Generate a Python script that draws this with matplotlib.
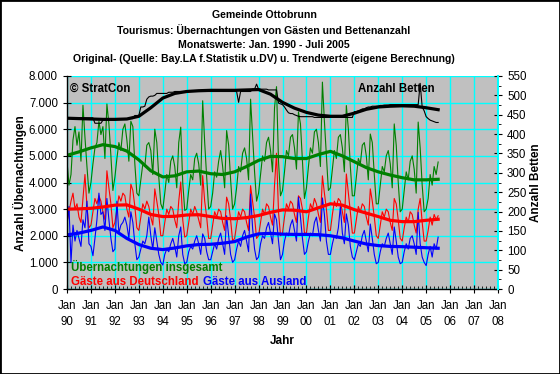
import matplotlib
matplotlib.use("Agg")
import matplotlib.pyplot as plt
from matplotlib.ticker import FuncFormatter, MultipleLocator
from matplotlib.patches import Rectangle
import numpy as np

plt.rcParams['font.family'] = ['Liberation Sans', 'DejaVu Sans']

# Monatswerte Jan 1990 - Jul 2005
ubern_gesamt = [
    4800, 3900, 4300, 5600, 6100, 5400, 5900, 4800, 6900, 5700, 4600, 3600,
    4000, 4700, 5300, 5500, 6300, 5800, 6100, 4900, 6950, 6200, 5000, 3700,
    4200, 4900, 5500, 5200, 6000, 6200, 5600, 4800, 6300, 6100, 4700, 3600,
    3500, 4100, 4700, 4600, 5400, 5500, 5200, 4300, 6000, 5500, 4200, 3200,
    3000, 3600, 4300, 4000, 4800, 5000, 4600, 3800, 5500, 6080, 4000, 2950,
    3000, 3700, 4300, 4100, 4900, 5100, 4700, 3900, 7070, 5500, 4200, 3000,
    3100, 3600, 4400, 4200, 4800, 5200, 4600, 3800, 5950, 5400, 4100, 3000,
    3200, 3800, 4600, 4400, 5100, 5300, 4900, 4100, 7130, 5800, 4400, 3300,
    3600, 4300, 5000, 4800, 5500, 5700, 5200, 4400, 6800, 7600, 4800, 3500,
    3700, 4400, 5200, 5000, 5700, 5800, 5300, 4500, 6650, 6200, 4800, 3400,
    3800, 4600, 5300, 5100, 5900, 6000, 5500, 4600, 7770, 6300, 5000, 3700,
    3800, 4500, 5200, 4900, 5700, 5800, 5300, 4400, 6890, 6000, 4600, 3500,
    3500, 4200, 4900, 4700, 5400, 5500, 5000, 4100, 5820, 5500, 4300, 3200,
    3200, 3900, 4600, 4400, 5000, 5200, 4700, 3800, 6200, 5400, 4000, 2900,
    3000, 3700, 4400, 4100, 4800, 5000, 4500, 3600, 6270, 5300, 3900, 2900,
    3000, 3400, 4300, 3900, 4600, 4300, 4770,
]

gaeste_de = [
    2500, 2900, 3300, 3600, 3000, 3200, 2700, 2500, 3400, 4300, 3100, 2300,
    2400, 2900, 3400, 3200, 3500, 3300, 2900, 2600, 4440, 3800, 3200, 2300,
    2500, 3000, 3500, 3300, 3600, 3500, 3000, 2700, 3940, 3700, 3100, 2300,
    2200, 2700, 3200, 3000, 3300, 3100, 2700, 2400, 3760, 3300, 2800, 2000,
    2000, 2500, 3000, 2800, 3100, 3000, 2600, 2300, 3300, 4020, 2600, 1950,
    2000, 2500, 3000, 2800, 3100, 2900, 2600, 2300, 4260, 3300, 2700, 1900,
    1900, 2400, 2900, 2700, 3000, 2900, 2500, 2200, 3450, 3200, 2600, 1800,
    1900, 2400, 2900, 2700, 3000, 2900, 2500, 2200, 3880, 3300, 2700, 1900,
    2000, 2500, 3000, 2800, 3200, 3100, 2700, 2400, 3900, 5100, 2900, 2000,
    2100, 2700, 3200, 3000, 3300, 3200, 2800, 2500, 3500, 3400, 3000, 2100,
    2100, 2700, 3200, 3000, 3400, 3200, 2800, 2500, 4250, 3600, 3000, 2200,
    2200, 2800, 3300, 3100, 3400, 3300, 2900, 2500, 4320, 3600, 2900, 2100,
    2100, 2600, 3100, 2900, 3200, 3100, 2700, 2400, 3760, 3300, 2700, 2000,
    1900, 2400, 2900, 2700, 3000, 2900, 2500, 2200, 3400, 3200, 2600, 1900,
    1800, 2300, 2700, 2500, 2900, 2800, 2400, 2100, 3000, 3400, 2500, 1800,
    1800, 2200, 2700, 2400, 2800, 2600, 2750,
]

gaeste_ausland = [
    2400, 3100, 1000, 2400, 1800, 2200, 1900, 1600, 2600, 2300, 3300, 1700,
    1600, 1250, 1900, 2600, 3600, 2800, 2900, 2200, 3400, 2600, 1900, 1400,
    1500, 3300, 2100, 2400, 2500, 2700, 2400, 1900, 2900, 2500, 1700, 1100,
    1200, 1500, 1800, 1700, 2000, 2700, 2000, 1500, 2300, 1800, 1300, 1000,
    900, 1300, 1500, 1400, 1700, 1900, 1600, 1200, 2000, 2330, 1300, 950,
    1000, 1400, 1600, 1500, 1800, 2000, 1700, 1300, 2070, 1900, 1400, 1100,
    1100, 1400, 1700, 1500, 1900, 2100, 1700, 1300, 2750, 2000, 1300, 1000,
    1100, 1500, 1800, 1600, 2000, 2200, 1800, 1400, 3570, 2300, 1500, 1100,
    1200, 1700, 2000, 1900, 2300, 2500, 2100, 1700, 2820, 2600, 1800, 1100,
    1300, 1800, 2100, 2000, 2400, 2600, 2200, 1800, 3450, 2700, 1900, 1300,
    1400, 1800, 2100, 2000, 2500, 2700, 2200, 1800, 3420, 2800, 1800, 1300,
    1300, 1700, 2000, 1900, 2300, 3100, 2100, 1700, 2820, 2400, 1600, 1200,
    1100, 1400, 1700, 1600, 2000, 2200, 1800, 1400, 2440, 1900, 1300, 950,
    1000, 1400, 1700, 1600, 1900, 2100, 1700, 1300, 2330, 1800, 1200, 950,
    1000, 1400, 1700, 1500, 1900, 2000, 1700, 1300, 2880, 1700, 1200, 1000,
    880, 1300, 1600, 1200, 1700, 1500, 1950,
]

betten = [
    442, 442, 442, 442, 442, 442, 442, 442, 442, 442, 442, 442,
    442, 442, 428, 428, 428, 428, 436, 436, 440, 440, 440, 440,
    438, 438, 438, 438, 438, 438, 438, 440, 440, 440, 448, 448,
    448, 470, 470, 472, 490, 496, 498, 498, 500, 505, 505, 505,
    505, 505, 505, 508, 508, 508, 510, 510, 510, 510, 510, 510,
    510, 510, 510, 510, 510, 510, 510, 510, 510, 510, 510, 510,
    510, 510, 510, 510, 510, 510, 510, 510, 510, 510, 510, 510,
    510, 510, 482, 510, 510, 510, 510, 510, 510, 516, 516, 529,
    516, 516, 516, 516, 516, 514, 514, 514, 514, 514, 480, 478,
    476, 470, 462, 455, 453, 453, 450, 448, 446, 445, 445, 445,
    445, 445, 445, 445, 443, 443, 443, 443, 443, 443, 443, 443,
    443, 443, 443, 443, 443, 443, 443, 443, 443, 443, 443, 443,
    458, 458, 460, 462, 465, 465, 468, 470, 470, 472, 472, 472,
    472, 474, 474, 475, 475, 475, 476, 476, 476, 476, 476, 476,
    476, 476, 476, 476, 476, 476, 476, 476, 476, 531, 470, 460,
    445, 440, 436, 434, 432, 430, 430,
]

# Trendwerte, halbjaehrlich Jan 1990 - Jul 2005
trend_gesamt = [5020, 5150, 5300, 5420, 5350, 5180, 4850, 4440, 4210, 4250,
                4400, 4430, 4330, 4300, 4400, 4600, 4830, 4980, 4970, 4900,
                4900, 5050, 5170, 5000, 4780, 4560, 4400, 4280, 4180, 4100,
                4100, 4120]
trend_de = [3000, 3010, 3030, 3080, 3150, 3160, 3000, 2800, 2720, 2730,
            2780, 2790, 2720, 2650, 2640, 2680, 2760, 2880, 2970, 2960,
            2900, 3050, 3200, 3150, 2980, 2850, 2720, 2580, 2530, 2530,
            2580, 2620]
trend_ausland = [2030, 2100, 2200, 2330, 2200, 1900, 1670, 1530, 1480, 1540,
                 1620, 1670, 1680, 1720, 1780, 1950, 2070, 2090, 2060, 2050,
                 2050, 2040, 2000, 1920, 1800, 1690, 1630, 1600, 1590, 1570,
                 1550, 1530]
trend_betten = [441, 440, 439, 438, 438, 439, 446, 468, 493, 505,
                510, 512, 513, 513, 513, 514, 515, 503, 482, 467,
                456, 449, 446, 446, 454, 464, 470, 472, 473, 472,
                468, 463]

jahre = list(range(1990, 2009))
x_monat = 1990 + np.arange(len(ubern_gesamt)) / 12
x_trend = 1990 + np.arange(len(trend_gesamt)) / 2

W, H = 560, 374
fig = plt.figure(figsize=(W / 100, H / 100), dpi=100)
ax = fig.add_axes([67 / W, 85 / H, 431 / W, 213 / H])
ax.set_facecolor('#C0C0C0')

thin = 0.8
thick = 2.3
ax.plot(x_monat, ubern_gesamt, color='#008000', lw=thin)
ax.plot(x_monat, gaeste_de, color='#FF0000', lw=thin)
ax.plot(x_monat, gaeste_ausland, color='#0000FF', lw=thin)
ax.plot(x_trend, trend_gesamt, color='#008000', lw=thick)
ax.plot(x_trend, trend_de, color='#FF0000', lw=thick)
ax.plot(x_trend, trend_ausland, color='#0000FF', lw=thick)

ax.set_xlim(1990, 2008)
ax.set_ylim(0, 8000)
ax.set_xticks(jahre)
ax.set_xticklabels([f"Jan\n{j % 100:02d}" for j in jahre], linespacing=1.4)
ax.xaxis.set_minor_locator(MultipleLocator(1 / 6))
ax.set_yticks(range(0, 8001, 1000))
ax.yaxis.set_major_formatter(FuncFormatter(lambda v, _: f"{int(v):,}".replace(',', '.')))
ax.set_axisbelow(True)
ax.grid(True, color='#00FFFF', lw=1.0)
ax.tick_params(axis='both', which='major', direction='inout', length=6, width=0.8,
               labelsize=8.3, colors='black')
ax.tick_params(axis='x', which='major', pad=5)
ax.tick_params(axis='x', which='minor', direction='in', length=2, width=0.6)
ax.spines['top'].set_visible(False)
ax.spines['right'].set_visible(False)
for s in ('left', 'bottom'):
    ax.spines[s].set_linewidth(1.0)

ax2 = ax.twinx()
ax2.plot(x_monat, betten, color='black', lw=thin)
ax2.plot(x_trend, trend_betten, color='black', lw=thick)
ax2.set_ylim(0, 550)
ax2.set_yticks(range(0, 551, 50))
ax2.yaxis.set_minor_locator(MultipleLocator(25))
ax2.tick_params(axis='y', which='major', direction='inout', length=6, width=0.8,
                labelsize=8.3)
ax2.tick_params(axis='y', which='minor', direction='out', length=2, width=0.6)
for s in ('top', 'left', 'bottom'):
    ax2.spines[s].set_visible(False)
ax2.spines['right'].set_color('#00FFFF')
ax2.spines['right'].set_linewidth(1.5)

# Titel
titel = ["Gemeinde Ottobrunn",
         "Tourismus: Übernachtungen von Gästen und Bettenanzahl",
         "Monatswerte: Jan. 1990 - Juli 2005",
         "Original- (Quelle: Bay.LA f.Statistik u.DV) u. Trendwerte (eigene Berechnung)"]
for zeile, yp in zip(titel, [15, 30.5, 45, 59.5]):
    fig.text(264 / W, 1 - yp / H, zeile, ha='center', va='center',
             fontsize=7.6, fontweight='bold')

fig.text(19.5 / W, 1 - 183 / H, "Anzahl Übernachtungen", rotation=90,
         ha='center', va='center', fontsize=8.5, fontweight='bold')
fig.text(536 / W, 1 - 183 / H, "Anzahl Betten", rotation=90,
         ha='center', va='center', fontsize=8.5, fontweight='bold')
fig.text(282 / W, 1 - 341 / H, "Jahr", ha='center', va='center',
         fontsize=8.5, fontweight='bold')

beschriftung = [("© StratCon", 70, 88.5, 'black'),
                ("Anzahl Betten", 358, 88.5, 'black'),
                ("Übernachtungen insgesamt", 71, 267, '#008000'),
                ("Gäste aus Deutschland", 71, 282, '#FF0000'),
                ("Gäste aus Ausland", 203, 282, '#0000FF')]
for txt, xp, yp, col in beschriftung:
    fig.text(xp / W, 1 - yp / H, txt, ha='left', va='center', fontsize=8.3,
             fontweight='bold', color=col)

fig.patches.append(Rectangle((0, 0), 1, 1, transform=fig.transFigure, fill=False,
                             edgecolor='black', lw=2, clip_on=False))

fig.savefig("out.png", dpi=100, facecolor='white')
